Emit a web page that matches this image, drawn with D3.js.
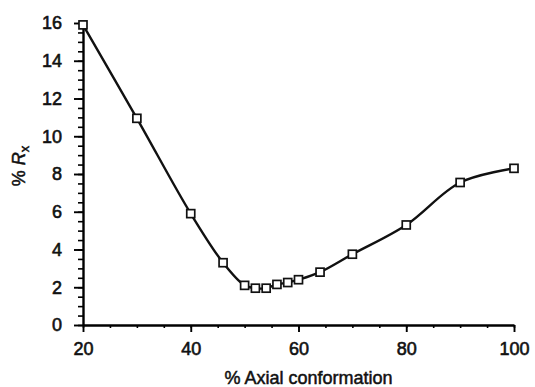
<!DOCTYPE html>
<html>
<head>
<meta charset="utf-8">
<script src="https://cdn.jsdelivr.net/npm/d3@7"></script>
<style>
  body { margin: 0; background: #fff; }
  text { font-family: "Liberation Sans", Arial, sans-serif; fill: #111; }
</style>
</head>
<body>
<div id="chart"></div>
<script>
// data
var axialPct = [20, 30, 40, 46, 50, 52, 54, 56, 58, 60, 64, 70, 80, 90, 100];
var rxPct = [15.9, 10.95, 5.9, 3.3, 2.1, 1.95, 1.95, 2.15, 2.25, 2.4, 2.8, 3.75, 5.3, 7.55, 8.3];
var xTicks = [20, 40, 60, 80, 100];
var yTicks = [0, 2, 4, 6, 8, 10, 12, 14, 16];

var W = 535, H = 387;
var margin = {top: 23, right: 21, bottom: 62, left: 83};
var width = W - margin.left - margin.right;
var height = H - margin.top - margin.bottom;

var svg = d3.select("#chart")
  .append("svg")
  .attr("width", W)
  .attr("height", H)
  .append("g")
  .attr("transform", "translate(" + margin.left + "," + margin.top + ")");

var x = d3.scaleLinear().domain([20, 100]).range([0, width]);
var y = d3.scaleLinear().domain([0, 16]).range([height, 0]);

// minor ticks first
svg.append("g")
  .attr("transform", "translate(0," + height + ")")
  .call(d3.axisBottom(x).tickValues(d3.range(20, 101, 5)).tickSize(3).tickFormat(""))
  .call(g => g.select(".domain").remove())
  .selectAll("line").attr("stroke-width", 1.6);

svg.append("g")
  .call(d3.axisLeft(y).tickValues(d3.range(0, 16.01, 0.5)).tickSize(5).tickFormat(""))
  .call(g => g.select(".domain").remove())
  .selectAll("line").attr("stroke-width", 1.6);

// major ticks + labels
var xAxis = svg.append("g")
  .attr("transform", "translate(0," + height + ")")
  .call(d3.axisBottom(x).tickValues(xTicks).tickSize(7).tickSizeOuter(0).tickPadding(10));
var yAxis = svg.append("g")
  .call(d3.axisLeft(y).tickValues(yTicks).tickSize(9).tickSizeOuter(0).tickPadding(12));

[xAxis, yAxis].forEach(function(g) {
  g.select(".domain").attr("stroke-width", 2.4);
  g.selectAll("line").attr("stroke-width", 1.9);
  g.selectAll("text")
    .attr("font-size", 18)
    .style("font-family", "'Liberation Sans', Arial, sans-serif")
    .attr("fill", "#111")
    .attr("stroke", "#111")
    .attr("stroke-width", 0.6);
});

// curve
var line = d3.line()
  .x(function(d, i) { return x(axialPct[i]); })
  .y(function(d) { return y(d); })
  .curve(d3.curveCatmullRom.alpha(0.5));

svg.append("path")
  .attr("fill", "none")
  .attr("stroke", "#111")
  .attr("stroke-width", 2.4)
  .attr("d", line(rxPct));

// square markers
svg.selectAll(".pt")
  .data(rxPct)
  .enter()
  .append("rect")
  .attr("class", "pt")
  .attr("x", function(d, i) { return x(axialPct[i]) - 4; })
  .attr("y", function(d) { return y(d) - 4; })
  .attr("width", 8)
  .attr("height", 8)
  .attr("fill", "#fff")
  .attr("stroke", "#111")
  .attr("stroke-width", 1.7);

// axis titles
svg.append("text")
  .attr("x", width / 2 + 10)
  .attr("y", height + 59)
  .attr("text-anchor", "middle")
  .attr("font-size", 18)
  .attr("stroke", "#111")
  .attr("stroke-width", 0.5)
  .text("% Axial conformation");

var yl = svg.append("text")
  .attr("transform", "translate(-58," + (height / 2 - 8) + ") rotate(-90)")
  .attr("text-anchor", "middle")
  .attr("font-size", 18)
  .attr("stroke", "#111")
  .attr("stroke-width", 0.5);
yl.append("tspan").text("% ");
yl.append("tspan").attr("font-style", "italic").text("R");
yl.append("tspan").attr("font-size", 13).attr("dy", 4).text("x");
</script>
</body>
</html>
